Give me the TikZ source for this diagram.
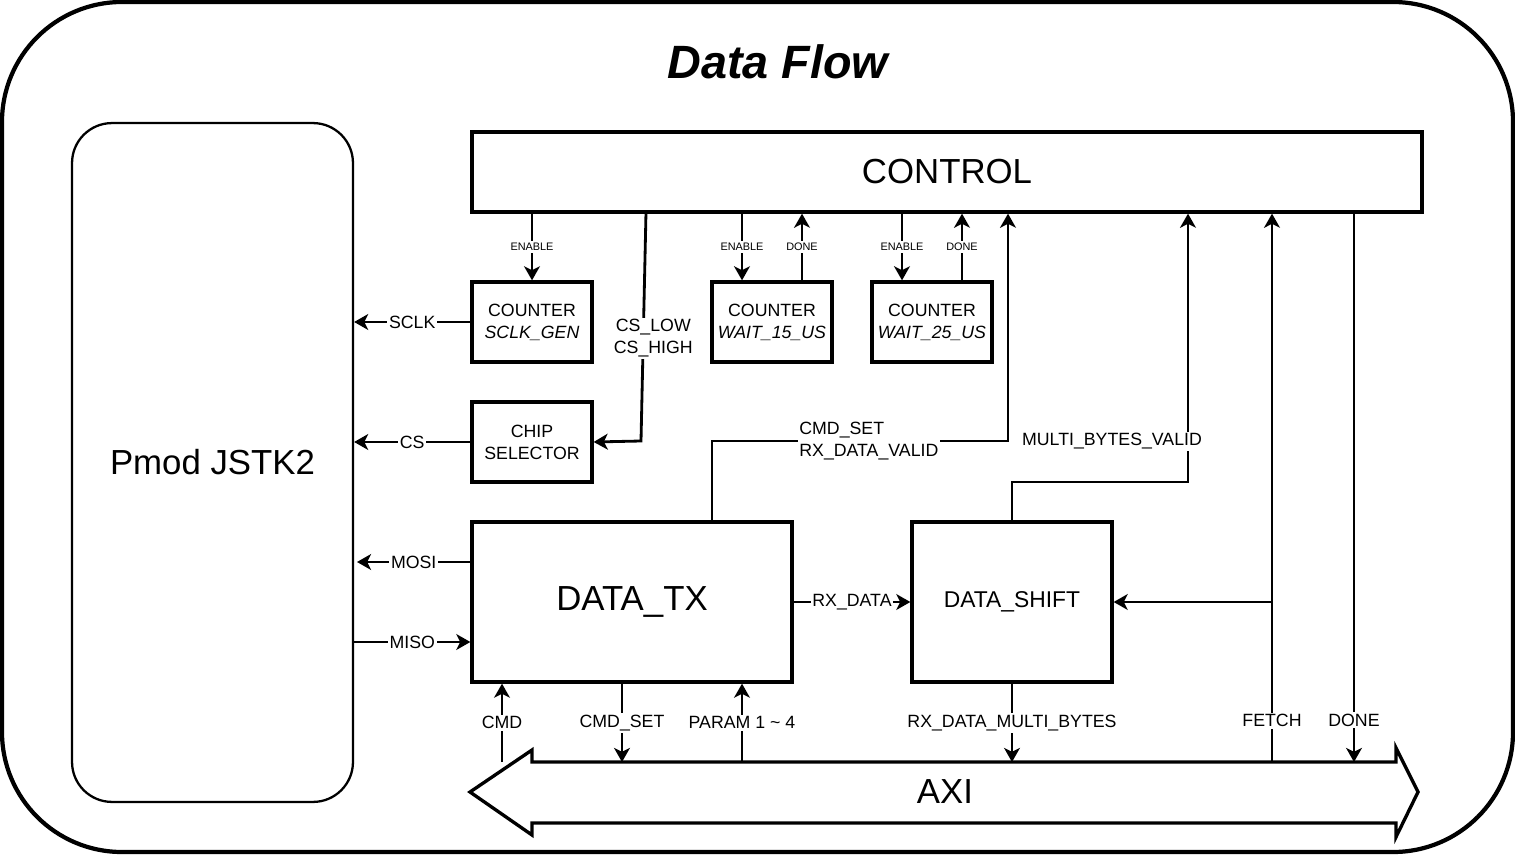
\documentclass[tikz,border=0pt]{standalone}
\usepackage{fontspec}
\setmainfont{Liberation Sans}
\usetikzlibrary{arrows.meta,positioning,calc}

\newcommand\sizeTitle{\fontsize{26.6}{32}\selectfont\bfseries\itshape}
\newcommand\sizeL{\fontsize{19.8}{24}\selectfont}
\newcommand\sizeMid{\fontsize{13}{16}\selectfont}
\newcommand\sizeM{\fontsize{10.1}{12.4}\selectfont}
\newcommand\sizeXS{\fontsize{6.2}{7.5}\selectfont}

\tikzset{
	blk/.style={draw,line width=1.9pt,minimum width=2.4cm,minimum height=1.6cm,align=center,font=\sizeM,inner sep=0pt},
	sig/.style={line width=1.6pt,-{Stealth[length=8pt,width=9pt,inset=2.2pt]}},
	lbl/.style={fill=white,inner sep=1pt,font=\sizeM},
	smalllbl/.style={fill=white,inner sep=1pt,font=\sizeXS}
}

\begin{document}
\begin{tikzpicture}[x=0.02cm,y=-0.02cm]
		\useasboundingbox (0,0) rectangle (1515,855);
		\draw[line width=2.4pt,rounded corners=2.4cm] (2,2) rectangle (1513,852);
		\node[font=\sizeTitle] (title) at (778,62) {Data Flow};

		\node[draw,line width=1.3pt,rounded corners=0.8cm,minimum width=5.62cm,minimum height=13.58cm,font=\sizeL] (pmod) at (212.5,462.5) {Pmod JSTK2};
		\node[blk,minimum width=19cm,font=\sizeL] (ctrl) at (947,172) {CONTROL};
		\node[blk] (sclk) at (532,322) {COUNTER\\\textit{SCLK\_GEN}};
		\node[blk] (w15) at (772,322) {COUNTER\\\textit{WAIT\_15\_US}};
		\node[blk] (w25) at (932,322) {COUNTER\\\textit{WAIT\_25\_US}};
		\node[blk] (csel) at (532,442) {CHIP\\SELECTOR};
		\node[blk,minimum width=6.4cm,minimum height=3.2cm,font=\sizeL] (tx) at (632,602) {DATA\_TX};
		\node[blk,minimum width=4cm,minimum height=3.2cm,font=\sizeMid] (shift) at (1012,602) {DATA\_SHIFT};

		% AXI bus
		\draw[line width=1.9pt,line join=miter] (470,792) -- (532,750) -- (532,762) -- (1396,762) -- (1396,748) -- (1418,792)
			-- (1396,837) -- (1396,823) -- (532,823) -- (532,835) -- cycle;
		\node[font=\sizeL] (axilbl) at (945,792) {AXI};
		\coordinate (axi) at (945,762);
		\coordinate (cstop) at (646,212);
		\coordinate (csbot) at (641,441);
		\coordinate (fetchtap) at (1272,602);

		\draw[sig] (ctrl.south -| sclk.north) -- node[smalllbl]{ENABLE} (sclk.north);
		\draw[sig] (ctrl.south -| 742,0) -- node[smalllbl]{ENABLE} (w15.north -| 742,0);
		\draw[sig] (w15.north -| 802,0) -- node[smalllbl]{DONE} (ctrl.south -| 802,0);
		\draw[sig] (ctrl.south -| 902,0) -- node[smalllbl]{ENABLE} (w25.north -| 902,0);
		\draw[sig] (w25.north -| 962,0) -- node[smalllbl]{DONE} (ctrl.south -| 962,0);
		\draw[sig] (cstop) -- node[lbl,pos=0.54,xshift=0.2cm,yshift=-0.05cm,align=center]{CS\_LOW\\CS\_HIGH} (csbot) -- (csel.east);

		\draw[sig] (sclk.west) -- node[lbl]{SCLK} (sclk.west -| pmod.east);
		\draw[sig] (csel.west) -- node[lbl]{CS} (csel.west -| pmod.east);
		\draw[sig] (tx.west |- 0,562) -- node[lbl]{MOSI} (357,562);
		\draw[sig] (pmod.east |- 0,642) -- node[lbl]{MISO} (tx.west |- 0,642);

		\draw[sig] (tx.north -| 712,0) -- (712,441) -- node[lbl,pos=0.53,align=left]{CMD\_SET\\RX\_DATA\_VALID} (1008,441) -- (ctrl.south -| 1008,0);
		\draw[sig] (tx.east) -- node[lbl]{RX\_DATA} (shift.west);
		\draw[sig] (shift.north) -- (1012,482) -- (1188,482) -- node[lbl,pos=0.152,xshift=-1.52cm]{MULTI\_BYTES\_VALID} (ctrl.south -| 1188,0);

		\draw[sig] (axi -| 1272,0) -- node[lbl,pos=0.075]{FETCH} (ctrl.south -| 1272,0);
		\draw[sig] (fetchtap) -- (shift.east);
		\draw[sig] (ctrl.south -| 1354,0) -- node[lbl,pos=0.924]{DONE} (axi -| 1354,0);
		\draw[sig] (shift.south) -- node[lbl]{RX\_DATA\_MULTI\_BYTES} (axi -| shift.south);

		\draw[sig] (axi -| 502,0) -- node[lbl]{CMD} (tx.south -| 502,0);
		\draw[sig] (tx.south -| 622,0) -- node[lbl]{CMD\_SET} (axi -| 622,0);
		\draw[sig] (axi -| 742,0) -- node[lbl]{PARAM 1 \textasciitilde{} 4} (tx.south -| 742,0);
	\end{tikzpicture}
\end{document}
